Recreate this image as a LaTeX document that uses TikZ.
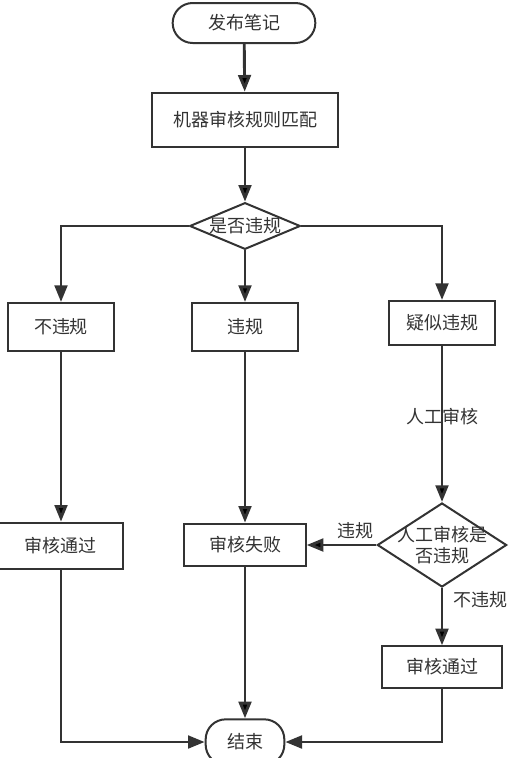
\documentclass[tikz,border=0pt]{standalone}
\usepackage{fontspec}
\newfontfamily\cjk{Noto Sans CJK SC}
\usepackage{tikz}
\usetikzlibrary{%
  shapes.geometric,%
  arrows.meta%
}
\definecolor{ink}{HTML}{333333}

\begin{document}
\begin{tikzpicture}[x=0.75pt,y=-0.75pt,
  font=\cjk\fontsize{13.5pt}{16pt}\selectfont,text=ink,
  >={Triangle[length=12.5pt,width=9.5pt]},
  box/.style={draw=ink,line width=1.5pt,rectangle,inner sep=0pt},
  term/.style={box,rounded corners=15pt},
  decision/.style={draw=ink,line width=1.5pt,diamond,inner sep=0pt},
  flow/.style={->,draw=ink,line width=2.2pt}]
\useasboundingbox (0,0) rectangle (511,758);

\node[term,minimum width=107pt,minimum height=30pt] (start) at (244,23) {发布笔记};
\node[box,minimum width=139pt,minimum height=41pt] (match) at (245,120) {机器审核规则匹配};
\node[decision,minimum width=83pt,minimum height=35pt,
  label={center:是否违规}] (judge) at (245,226) {};

\node[box,minimum width=80pt,minimum height=36pt] (ok) at (61,327) {不违规};
\node[box,minimum width=80pt,minimum height=36pt] (bad) at (245,327) {违规};
\node[box,minimum width=80pt,minimum height=33pt] (suspect) at (442,323) {疑似违规};

\node[box,minimum width=93pt,minimum height=35pt] (pass) at (61,546) {审核通过};
\node[box,minimum width=91pt,minimum height=32pt] (fail) at (245,545) {审核失败};
\node[decision,minimum width=97pt,minimum height=63pt,
  label={[align=center]center:人工审核是\\否违规}] (manual) at (442,545) {};
\node[box,minimum width=90pt,minimum height=31pt] (passb) at (442,667) {审核通过};

\node[term,minimum width=59pt,minimum height=34pt] (stop) at (245,742) {结束};

\draw[flow] (start) edge (match)
            (match) edge (judge)
            (judge) edge (bad)
            (ok) edge (pass)
            (bad) edge (fail)
            (suspect) edge node[pos=.45] {人工审核} (manual)
            (manual) edge node[above,pos=.3] {违规} (fail)
            (manual) edge node[right,pos=.2,xshift=4pt] {不违规} (passb)
            (fail) edge (stop)
;
\draw[flow] (judge.west) -| (ok);
\draw[flow] (judge.east) -| (suspect);
\draw[flow] (pass) |- (stop);
\draw[flow] (passb) |- (stop);
\end{tikzpicture}
\end{document}
